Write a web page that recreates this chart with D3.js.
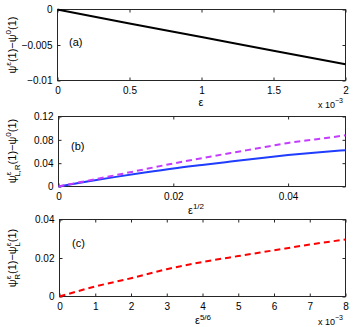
<!DOCTYPE html>
<html>
<head>
<meta charset="utf-8">
<script src="https://cdn.jsdelivr.net/npm/d3@7"></script>
<style>
  body { margin: 0; background: #fff; }
  svg { font-family: "Liberation Sans", Arial, sans-serif; }
</style>
</head>
<body>
<div id="chart"></div>
<script>
// panel (a): eps (x 1e-3) vs psi^eps(1)-psi^0(1)
var aX = [0, 0.5, 1, 1.5, 2];
var aY = [0, -0.00196, -0.00388, -0.00582, -0.0077];
var aXTicks = [0, 0.5, 1, 1.5, 2];
var aYTicks = [-0.01, -0.005, 0];

// panel (b): eps^(1/2)
var bX = [0, 0.005, 0.01, 0.015, 0.02, 0.025, 0.03, 0.035, 0.04, 0.045, 0.05];
var bL = [0, 0.0085, 0.0165, 0.024, 0.031, 0.037, 0.0428, 0.0485, 0.0538, 0.0582, 0.0623];
var bR = [0, 0.0098, 0.0195, 0.0295, 0.0395, 0.0485, 0.0575, 0.066, 0.0747, 0.081, 0.0877];
var bXTicks = [0, 0.02, 0.04];
var bYTicks = [0, 0.04, 0.08, 0.12];

// panel (c): eps^(5/6) (x 1e-3)
var cX = [0, 1, 2, 3, 4, 5, 6, 7, 8];
var cY = [0, 0.0052, 0.0095, 0.0142, 0.0179, 0.021, 0.024, 0.027, 0.0296];
var cXTicks = [0, 1, 2, 3, 4, 5, 6, 7, 8];
var cYTicks = [0, 0.02, 0.04];

var W = 354, H = 327;
var svg = d3.select("#chart").append("svg")
    .attr("width", W).attr("height", H);

var axisColor = "#262626";

function panel(box, xd, yd, xt, yt, fmtX, fmtY) {
    var x = d3.scaleLinear().domain(xd).range([box.x0, box.x1]);
    var y = d3.scaleLinear().domain(yd).range([box.y1, box.y0]);
    var g = svg.append("g");
    // bottom axis
    g.append("g").attr("transform", "translate(0," + box.y1 + ")")
        .call(d3.axisBottom(x).tickValues(xt).tickSizeInner(-3).tickSizeOuter(0).tickPadding(6).tickFormat(fmtX));
    // left axis
    g.append("g").attr("transform", "translate(" + box.x0 + ",0)")
        .call(d3.axisLeft(y).tickValues(yt).tickSizeInner(-3).tickSizeOuter(0).tickPadding(5).tickFormat(fmtY));
    // mirrored ticks top/right
    g.append("g").attr("transform", "translate(0," + box.y0 + ")")
        .call(d3.axisTop(x).tickValues(xt).tickSizeInner(-3).tickSizeOuter(0).tickFormat(""));
    g.append("g").attr("transform", "translate(" + box.x1 + ",0)")
        .call(d3.axisRight(y).tickValues(yt).tickSizeInner(-3).tickSizeOuter(0).tickFormat(""));
    g.selectAll(".domain").attr("stroke", "none");
    g.selectAll(".tick line").attr("stroke", axisColor);
    g.selectAll(".tick text").attr("fill", "#000").style("font-size", "10px")
        .style("font-family", "Liberation Sans, Arial, sans-serif");
    g.append("rect")
        .attr("x", box.x0).attr("y", box.y0)
        .attr("width", box.x1 - box.x0).attr("height", box.y1 - box.y0)
        .attr("fill", "none").attr("stroke", axisColor).attr("stroke-width", 1);
    return {x: x, y: y, g: g};
}

function drawLine(p, xs, ys, color, width, dash) {
    var pts = xs.map(function (d, i) { return [d, ys[i]]; });
    p.g.append("path")
        .datum(pts)
        .attr("fill", "none")
        .attr("stroke", color)
        .attr("stroke-width", width)
        .attr("stroke-dasharray", dash || null)
        .attr("d", d3.line()
            .x(function (d) { return p.x(d[0]); })
            .y(function (d) { return p.y(d[1]); })
            .curve(d3.curveMonotoneX));
}

function fmt(d) { return d === 0 ? "0" : String(d).replace("-", "\u2212"); }

// ---------- panel (a)
var pa = panel({x0: 57.5, x1: 345.5, y0: 9.5, y1: 80.5}, [0, 2], [-0.01, 0], aXTicks, aYTicks, fmt, fmt);
drawLine(pa, aX, aY, "#000", 2);
svg.append("text").attr("x", 69).attr("y", 46).style("font-size", "11px").text("(a)");
svg.append("text").attr("x", 201).attr("y", 106).attr("text-anchor", "middle").style("font-size", "11px").text("\u03b5");
var xa = svg.append("text").attr("x", 318).attr("y", 108).style("font-size", "9px");
xa.append("tspan").text("x 10");
xa.append("tspan").attr("dy", -5).style("font-size", "7px").text("\u22123");

var la = svg.append("text").attr("transform", "translate(16,45) rotate(-90)")
    .attr("text-anchor", "middle").style("font-size", "11px");
la.append("tspan").text("\u03c8");
la.append("tspan").attr("dy", -5).style("font-size", "8px").text("\u03b5");
la.append("tspan").attr("dy", 5).text("(1)\u2212\u03c8");
la.append("tspan").attr("dy", -5).style("font-size", "8px").text("0");
la.append("tspan").attr("dy", 5).text("(1)");

// ---------- panel (b)
var pb = panel({x0: 58.5, x1: 345.5, y0: 116.5, y1: 186.5}, [0, 0.05], [0, 0.12], bXTicks, bYTicks, fmt, fmt);
drawLine(pb, bX, bL, "#1f3cff", 2);
drawLine(pb, bX, bR, "#c43cff", 2, "6,4");
svg.append("text").attr("x", 71).attr("y", 150).style("font-size", "11px").text("(b)");
var xb = svg.append("text").attr("x", 196).attr("y", 214).attr("text-anchor", "middle").style("font-size", "11px");
xb.append("tspan").text("\u03b5");
xb.append("tspan").attr("dy", -5).style("font-size", "8px").text("1/2");

var lb = svg.append("text").attr("transform", "translate(16,151) rotate(-90)")
    .attr("text-anchor", "middle").style("font-size", "11px");
lb.append("tspan").text("\u03c8");
lb.append("tspan").attr("dy", -5).style("font-size", "8px").text("\u03b5");
lb.append("tspan").attr("dx", -5).attr("dy", 9).style("font-size", "8px").text("L,R");
lb.append("tspan").attr("dy", -4).text("(1)\u2212\u03c8");
lb.append("tspan").attr("dy", -5).style("font-size", "8px").text("0");
lb.append("tspan").attr("dy", 5).text("(1)");

// ---------- panel (c)
var pc = panel({x0: 59.5, x1: 345.5, y0: 219.5, y1: 296.5}, [0, 8], [0, 0.04], cXTicks, cYTicks, fmt, fmt);
drawLine(pc, cX, cY, "#ff0000", 2, "6,4");
svg.append("text").attr("x", 72).attr("y", 247).style("font-size", "11px").text("(c)");
var xc = svg.append("text").attr("x", 203).attr("y", 324).attr("text-anchor", "middle").style("font-size", "11px");
xc.append("tspan").text("\u03b5");
xc.append("tspan").attr("dy", -4).style("font-size", "8px").text("5/6");
var xcs = svg.append("text").attr("x", 318).attr("y", 325).style("font-size", "9px");
xcs.append("tspan").text("x 10");
xcs.append("tspan").attr("dy", -5).style("font-size", "7px").text("\u22123");

var lc = svg.append("text").attr("transform", "translate(16,258) rotate(-90)")
    .attr("text-anchor", "middle").style("font-size", "11px");
lc.append("tspan").text("\u03c8");
lc.append("tspan").attr("dy", -5).style("font-size", "8px").text("\u03b5");
lc.append("tspan").attr("dx", -4).attr("dy", 9).style("font-size", "8px").text("R");
lc.append("tspan").attr("dy", -4).text("(1)\u2212\u03c8");
lc.append("tspan").attr("dy", -5).style("font-size", "8px").text("\u03b5");
lc.append("tspan").attr("dx", -4).attr("dy", 9).style("font-size", "8px").text("L");
lc.append("tspan").attr("dy", -4).text("(1)");
</script>
</body>
</html>
